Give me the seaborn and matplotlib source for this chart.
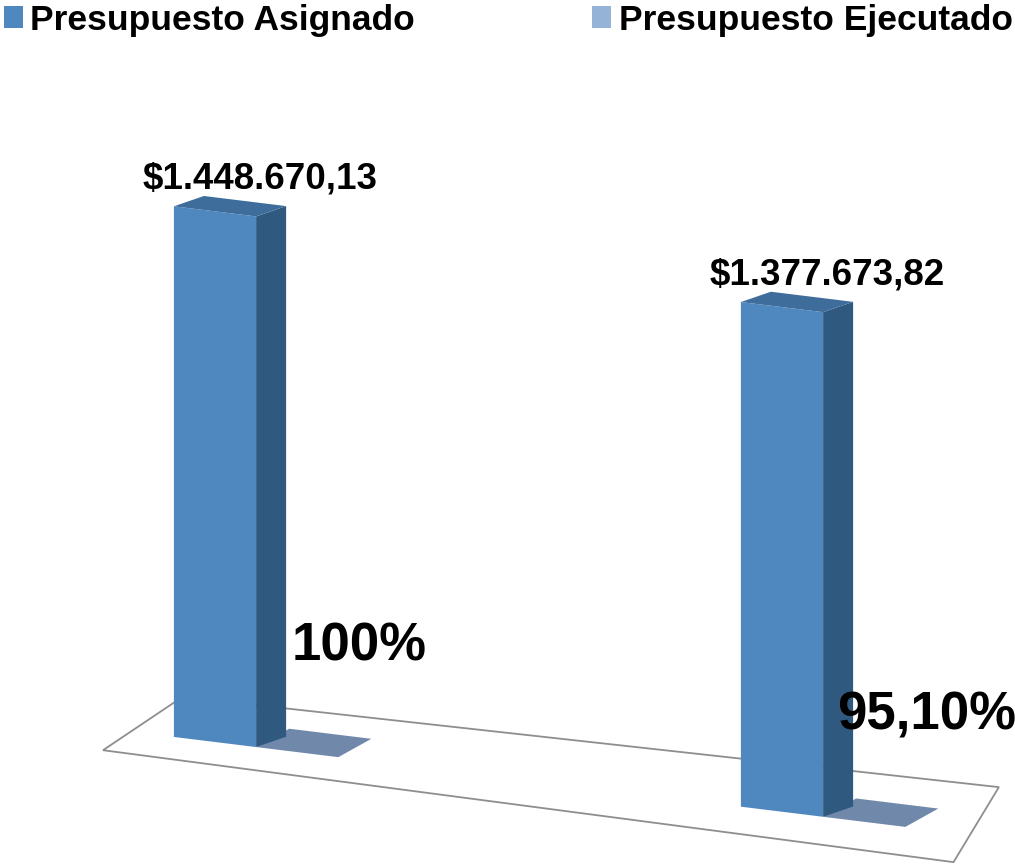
import numpy as np
import pandas as pd
import matplotlib
matplotlib.use("Agg")
import matplotlib.pyplot as plt
import matplotlib.transforms as mtransforms
from matplotlib.patches import Polygon
import seaborn as sns

# datos del grafico
categorias = ["Asignado", "Ejecutado"]
series = ["Presupuesto Asignado", "Presupuesto Ejecutado"]
montos = [1448670.13, 1377673.82]
porcentajes = [1.0, 0.951]


def formato_moneda(v):
    s = f"{v:,.2f}"
    return "$" + s.replace(",", "X").replace(".", ",").replace("X", ".")


def formato_pct(v):
    p = v * 100
    if abs(p - round(p)) < 1e-9:
        return f"{p:.0f}%"
    return f"{p:.2f}%".replace(".", ",")


df = pd.DataFrame({
    "categoria": categorias * 2,
    "serie": [series[0]] * len(categorias) + [series[1]] * len(categorias),
    "valor": montos + porcentajes,
})

# colores
c_frente = "#4F87BF"
c_lado = "#30597F"
c_tapa = "#3E6D9C"
c_plano = "#7089AB"
c_leyenda2 = "#95B3D7"

# escala en pixeles (perspectiva simplificada)
PX_UNIDAD = 567
Y_POR_PX = 2730
BASE_PX = 123
X0_PX = 215
K = 0.123
PROF_X, PROF_Y = 30, 14

sns.set_theme(style="white")
plt.rcParams["font.family"] = ["Liberation Sans", "DejaVu Sans"]

fig = plt.figure(figsize=(10.15, 8.65), dpi=100)
ax = fig.add_axes([0, 0, 1, 1])

sns.barplot(data=df, x="categoria", y="valor", hue="serie", hue_order=series,
            palette={series[0]: c_frente, series[1]: c_leyenda2}, saturation=1,
            width=0.29, ax=ax, errorbar=None, linewidth=0)

x_izq = -0.0725 - X0_PX / PX_UNIDAD
ax.set_xlim(x_izq, x_izq + 1015 / PX_UNIDAD)
ax.set_ylim(-BASE_PX * Y_POR_PX, (865 - BASE_PX) * Y_POR_PX)
ax.set_axis_off()

sns.move_legend(ax, "upper left", bbox_to_anchor=(0.0, 1.0), ncol=2,
                frameon=False, title=None, borderaxespad=0, borderpad=0.1,
                handlelength=0.54, handleheight=0.54, handletextpad=0.22,
                columnspacing=5.0, labelcolor="black",
                prop={"weight": "bold", "size": 25.5})

# inclinacion del piso
corte = mtransforms.Affine2D(np.array([[1, 0, 0], [-K, 1, K * X0_PX], [0, 0, 1]]))
tr = ax.transData + corte

ddx = PROF_X / PX_UNIDAD
ddy = PROF_Y * Y_POR_PX

# piso
piso = Polygon([(-0.27, -60000), (len(categorias) - 1 + 0.23, -80000),
                (len(categorias) - 1 + 0.31, 140000), (-0.13, 112000)],
               closed=True, facecolor="white", edgecolor="#8E8E8E", lw=1.3,
               transform=tr, zorder=0.5)
ax.add_patch(piso)

altas = ax.containers[0]
planas = ax.containers[1]

for p in list(altas) + list(planas):
    p.set_transform(tr)
    p.set_zorder(3)

for i in range(len(categorias)):
    b = altas[i]
    x0, w, h = b.get_x(), b.get_width(), b.get_height()
    x1 = x0 + w
    lado = Polygon([(x1, 0), (x1 + ddx, ddy), (x1 + ddx, h + ddy), (x1, h)],
                   closed=True, facecolor=c_lado, edgecolor="none", transform=tr, zorder=3)
    tapa = Polygon([(x0, h), (x1, h), (x1 + ddx, h + ddy), (x0 + ddx, h + ddy)],
                   closed=True, facecolor=c_tapa, edgecolor="none", transform=tr, zorder=3)
    ax.add_patch(lado)
    ax.add_patch(tapa)
    ax.annotate(formato_moneda(montos[i]), xy=(x0 + w / 2 + ddx / 2, h + ddy), xycoords=tr,
                xytext=(30, 20), textcoords="offset pixels", ha="center", va="center",
                fontsize=26.5, fontweight="bold", color="black")

    q = planas[i]
    qx0, qw, qh = q.get_x(), q.get_width(), q.get_height()
    plano = Polygon([(qx0, qh), (qx0 + qw, qh), (qx0 + qw + ddx * 1.1, qh + ddy * 1.6),
                     (qx0 + ddx * 1.1, qh + ddy * 1.6)],
                    closed=True, facecolor=c_plano, edgecolor="none", transform=tr, zorder=2)
    ax.add_patch(plano)
    ax.annotate(formato_pct(porcentajes[i]), xy=(qx0 + qw / 2, 0), xycoords=tr,
                xytext=(62, 106), textcoords="offset pixels", ha="center", va="center",
                fontsize=38, fontweight="bold", color="black")

fig.savefig("out.png", dpi=100)
